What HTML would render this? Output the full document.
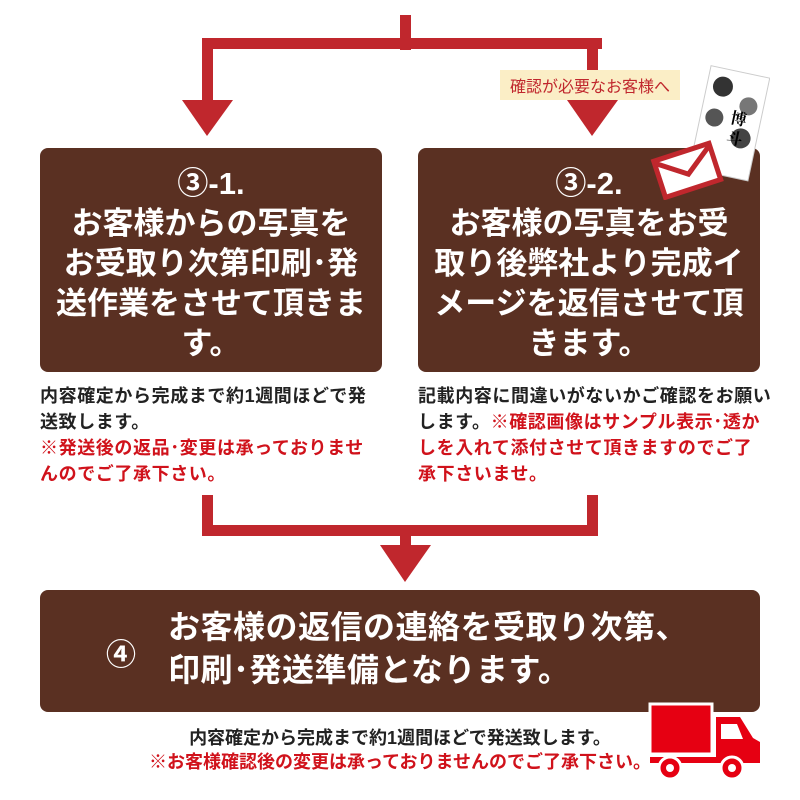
<!DOCTYPE html>
<html><head><meta charset="utf-8"><style>
body{margin:0;width:800px;height:800px;background:#fff;position:relative;overflow:hidden;font-family:"Liberation Sans","Noto Sans CJK JP",sans-serif}
.a{position:absolute}
.box{position:absolute;background:#5a3022;border-radius:8px;color:#fff;font-weight:bold;text-align:center}
.t{font-size:31px;line-height:40px}
.n{position:absolute;font-size:18px;letter-spacing:0.6px;line-height:26px;color:#222;font-weight:bold;white-space:nowrap}
.r{color:#d0121b}
</style></head><body>
<svg class="a" style="left:0;top:0" width="800" height="800">
<g fill="#c0272d">
<rect x="400" y="15" width="11" height="35"/>
<rect x="202" y="38" width="400" height="11"/>
<rect x="202" y="38" width="11" height="70"/>
<rect x="587" y="38" width="11" height="70"/>
<polygon points="182,100 233,100 207,136"/>
<polygon points="567,100 618,100 592,136"/>
<rect x="202" y="495" width="11" height="40"/>
<rect x="587" y="495" width="11" height="40"/>
<rect x="202" y="525" width="396" height="11"/>
<rect x="400" y="525" width="11" height="25"/>
<polygon points="380,545 431,545 405,582"/>
</g>
<rect x="500" y="70" width="180" height="30" fill="#fbeec6"/>
<text x="590" y="92" font-size="16" fill="#c0272d" text-anchor="middle" font-family="Liberation Sans,Noto Sans CJK JP,sans-serif">確認が必要なお客様へ</text>
</svg>
<div class="box" style="left:40px;top:148px;width:342px;height:224px">
<div class="t" style="margin-top:16px">③-1.<br>お客様からの写真を<br>お受取り次第印刷･発<br>送作業をさせて頂きま<br>す。</div></div>
<div class="box" style="left:418px;top:148px;width:342px;height:224px">
<div class="t" style="margin-top:16px">③-2.<br>お客様の写真をお受<br>取り後弊社より完成イ<br>メージを返信させて頂<br>きます。</div></div>
<svg class="a" style="left:640px;top:60px" width="130" height="140">
<g transform="rotate(12 85 70)"><rect x="58" y="10" width="60" height="105" fill="#fff" stroke="#ccc"/>
<circle cx="74" cy="28" r="10" fill="#333"/><circle cx="103" cy="42" r="9" fill="#777"/><circle cx="72" cy="60" r="9" fill="#555"/><circle cx="102" cy="75" r="10" fill="#444"/>
<text x="88" y="62" font-size="16" font-weight="bold" font-family="Noto Serif CJK SC,serif">博</text><text x="88" y="82" font-size="16" font-weight="bold" font-family="Noto Serif CJK SC,serif">斗</text></g>
<g transform="rotate(-18 45 110)"><rect x="18" y="92" width="58" height="38" fill="#fff" stroke="#c0272d" stroke-width="5"/><polyline points="18,94 47,115 76,94" fill="none" stroke="#c0272d" stroke-width="5"/></g>
</svg>
<div class="n" style="left:40px;top:383px">内容確定から完成まで約1週間ほどで発<br>送致します。<br><span class="r">※発送後の返品･変更は承っておりませ<br>んのでご了承下さい。</span></div>
<div class="n" style="left:418px;top:383px">記載内容に間違いがないかご確認をお願い<br>します。<span class="r">※確認画像はサンプル表示･透か<br>しを入れて添付させて頂きますのでご了<br>承下さいませ。</span></div>
<div class="box" style="left:40px;top:590px;width:720px;height:122px">
<div class="a" style="left:66px;top:40px;font-size:30px">④</div>
<div class="a" style="left:128px;top:16px;font-size:32px;line-height:43px;text-align:left;letter-spacing:0.5px">お客様の返信の連絡を受取り次第、<br>印刷･発送準備となります。</div></div>
<div class="n" style="left:80px;top:726px;width:640px;text-align:center;line-height:24px;font-size:18px;letter-spacing:0">内容確定から完成まで約1週間ほどで発送致します。<br><span class="r">※お客様確認後の変更は承っておりませんのでご了承下さい。</span></div>
<svg class="a" style="left:648px;top:700px" width="115" height="85">
<rect x="2" y="4" width="62" height="50" fill="#e60012" stroke="#fff" stroke-width="3"/>
<path d="M68 17 H92 L105 38 L112 42 V63 H2 V57 H68 Z" fill="#e60012"/>
<path d="M73 24 H89 L95 39 H73Z" fill="#fff"/>
<circle cx="22" cy="68" r="11" fill="#e60012" stroke="#fff" stroke-width="3"/><circle cx="22" cy="68" r="4" fill="#fff"/>
<circle cx="84" cy="68" r="11" fill="#e60012" stroke="#fff" stroke-width="3"/><circle cx="84" cy="68" r="4" fill="#fff"/>
</svg>
</body></html>
